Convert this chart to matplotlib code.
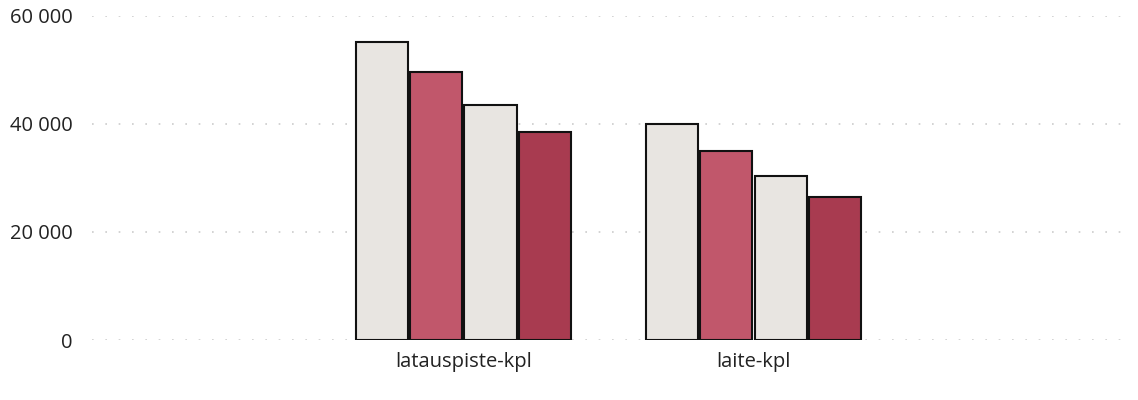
import matplotlib
matplotlib.use("Agg")
from matplotlib import pyplot as plt
import numpy as np

categories = ["latauspiste-kpl", "laite-kpl"]
series_1 = [55100, 40050]
series_2 = [49600, 35050]
series_3 = [43550, 30300]
series_4 = [38450, 26400]
y_ticks = [0, 20000, 40000, 60000]
y_tick_labels = ["0", "20 000", "40 000", "60 000"]

colors = ["#e8e5e1", "#c1576b", "#e8e5e1", "#a83b50"]

plt.rcParams['font.family'] = ['Open Sans', 'DejaVu Sans']

fig = plt.figure(figsize=(11.38, 4.0), dpi=100)
ax = fig.add_axes([92 / 1138, 60 / 400, 1030 / 1138, 324 / 400])

x = np.arange(len(categories))
step = 0.1875
width = 0.18
all_series = [series_1, series_2, series_3, series_4]
for i, vals in enumerate(all_series):
    offset = (i - 1.5) * step
    ax.bar(x + offset, vals, width, color=colors[i], edgecolor="#111111",
           linewidth=1.5, zorder=3)

ax.set_xlim(-1.28, 2.27)
ax.set_ylim(0, 60000)
ax.set_yticks(y_ticks)
ax.set_yticklabels(y_tick_labels)
ax.set_xticks(x)
ax.set_xticklabels(categories)

ax.grid(axis="y", color="#cccccc", linestyle=(0, (1, 7)), linewidth=1.2, zorder=0)
ax.tick_params(axis="both", length=0, labelsize=14.5, colors="#222222")
ax.tick_params(axis="y", pad=14)
ax.tick_params(axis="x", pad=9)
for s in ax.spines.values():
    s.set_visible(False)

fig.savefig("out.png", dpi=100)
